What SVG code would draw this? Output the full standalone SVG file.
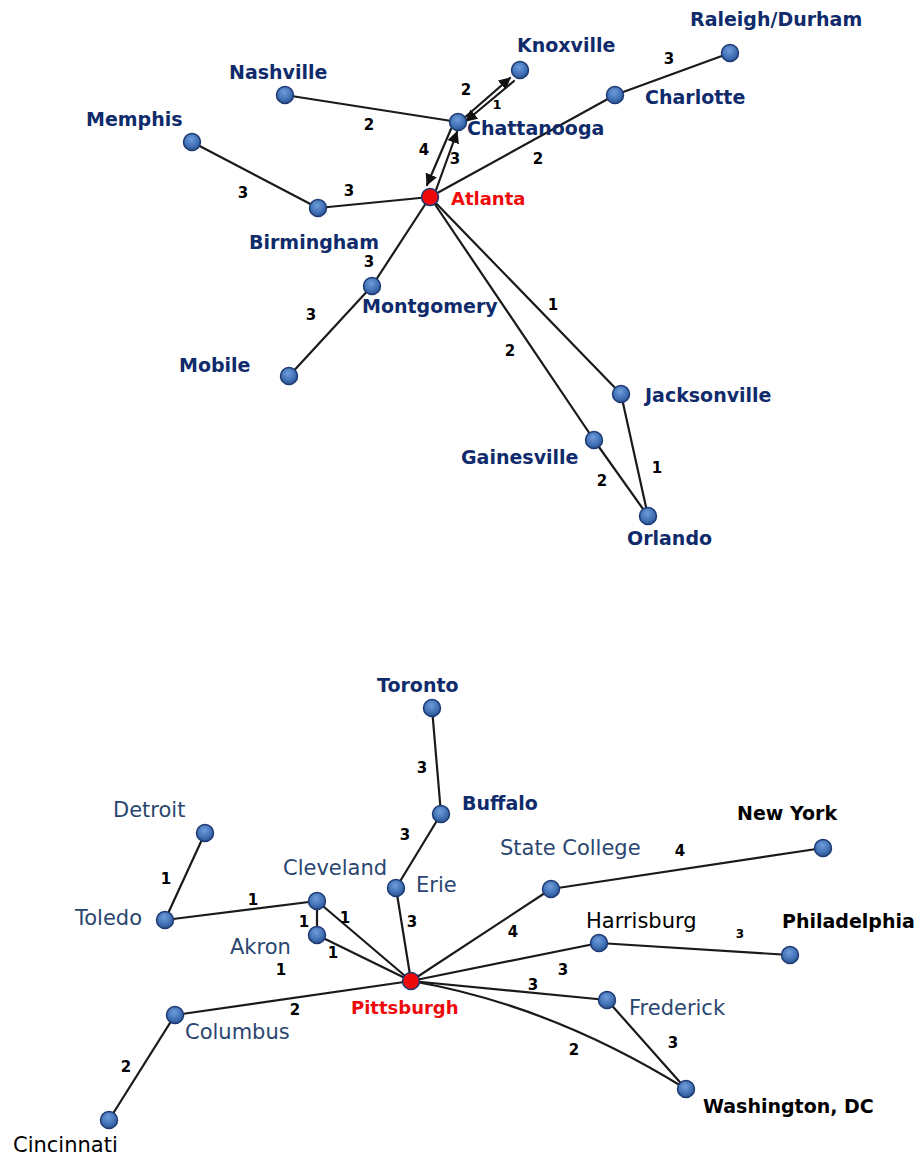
<svg xmlns="http://www.w3.org/2000/svg" width="917" height="1159" viewBox="0 0 917 1159">
<defs>
<radialGradient id="gBlue" cx="0.45" cy="0.35" r="0.7">
<stop offset="0" stop-color="#6f9ddb"/>
<stop offset="0.6" stop-color="#4170b5"/>
<stop offset="1" stop-color="#264f8c"/>
</radialGradient>
<marker id="arr" viewBox="0 0 10 10" refX="9" refY="5" markerWidth="5.5" markerHeight="5.5" orient="auto" markerUnits="strokeWidth">
<path d="M0,0 L10,5 L0,10 z" fill="#111"/>
</marker>
</defs>
<style>
.e{stroke:#1a1a1a;stroke-width:2.2;fill:none;stroke-linecap:round}
.n{fill:url(#gBlue);stroke:#1d3a72;stroke-width:1.5}
.r{fill:#ee0a0a;stroke:#1d3a72;stroke-width:1.5}
.t{font-family:"DejaVu Sans",Verdana,sans-serif;font-weight:bold;font-size:19px;fill:#0f2b6b}
.b{font-family:"DejaVu Sans",Verdana,sans-serif;font-size:21px;fill:#2a4670}
.k{font-family:"DejaVu Sans",Verdana,sans-serif;font-weight:bold;font-size:19px;fill:#000}
.kr{font-family:"DejaVu Sans",Verdana,sans-serif;font-size:21px;fill:#000}
.red{font-family:"DejaVu Sans",Verdana,sans-serif;font-weight:bold;font-size:18px;fill:#ee0a0a}
.w{font-family:"DejaVu Sans",Verdana,sans-serif;font-weight:bold;font-size:15px;fill:#000;text-anchor:middle}
</style>
<rect width="917" height="1159" fill="#fff"/>

<g id="connectors">
<!-- top -->
<line class="e" x1="285" y1="95" x2="458" y2="122"/>
<line class="e" x1="192" y1="142" x2="318" y2="208"/>
<line class="e" x1="318" y1="208" x2="430" y2="197"/>
<line class="e" x1="430" y1="197" x2="372" y2="286"/>
<line class="e" x1="372" y1="286" x2="289" y2="376"/>
<line class="e" x1="430" y1="197" x2="615" y2="95"/>
<line class="e" x1="615" y1="95" x2="730" y2="53"/>
<line class="e" x1="430" y1="197" x2="621" y2="394"/>
<line class="e" x1="430" y1="197" x2="594" y2="440"/>
<line class="e" x1="594" y1="440" x2="648" y2="516"/>
<line class="e" x1="621" y1="394" x2="648" y2="516"/>
<line class="e" x1="463" y1="119" x2="510" y2="78" marker-end="url(#arr)"/>
<line class="e" x1="514" y1="81" x2="466" y2="121" marker-end="url(#arr)"/>
<line class="e" x1="451" y1="129" x2="427" y2="185" marker-end="url(#arr)"/>
<line class="e" x1="436" y1="190" x2="457" y2="132" marker-end="url(#arr)"/>
<!-- bottom -->
<line class="e" x1="432" y1="708" x2="441" y2="814"/>
<line class="e" x1="441" y1="814" x2="396" y2="888"/>
<line class="e" x1="396" y1="888" x2="411" y2="981"/>
<line class="e" x1="205" y1="833" x2="165" y2="920"/>
<line class="e" x1="165" y1="920" x2="317" y2="901"/>
<line class="e" x1="317" y1="901" x2="317" y2="935"/>
<line class="e" x1="317" y1="901" x2="411" y2="981"/>
<line class="e" x1="317" y1="935" x2="411" y2="981"/>
<line class="e" x1="175" y1="1015" x2="411" y2="981"/>
<line class="e" x1="175" y1="1015" x2="109" y2="1120"/>
<line class="e" x1="411" y1="981" x2="551" y2="889"/>
<line class="e" x1="551" y1="889" x2="823" y2="848"/>
<line class="e" x1="411" y1="981" x2="599" y2="943"/>
<line class="e" x1="599" y1="943" x2="790" y2="955"/>
<line class="e" x1="411" y1="981" x2="607" y2="1000"/>
<line class="e" x1="607" y1="1000" x2="686" y2="1089"/>
<path class="e" d="M411,981 Q551,1005 686,1089"/>
</g>

<g id="edge-labels">
<text class="w" x="369" y="130">2</text>
<text class="w" x="243" y="198">3</text>
<text class="w" x="349" y="196">3</text>
<text class="w" x="369" y="267">3</text>
<text class="w" x="311" y="320">3</text>
<text class="w" x="538" y="164">2</text>
<text class="w" x="669" y="64">3</text>
<text class="w" x="466" y="95">2</text>
<text class="w" x="497" y="109" style="font-size:13px">1</text>
<text class="w" x="424" y="155">4</text>
<text class="w" x="455" y="164">3</text>
<text class="w" x="553" y="310">1</text>
<text class="w" x="510" y="356">2</text>
<text class="w" x="602" y="486">2</text>
<text class="w" x="657" y="473">1</text>
<text class="w" x="422" y="773">3</text>
<text class="w" x="405" y="840">3</text>
<text class="w" x="412" y="927">3</text>
<text class="w" x="166" y="884">1</text>
<text class="w" x="253" y="905">1</text>
<text class="w" x="304" y="927">1</text>
<text class="w" x="345" y="923">1</text>
<text class="w" x="333" y="958">1</text>
<text class="w" x="281" y="975">1</text>
<text class="w" x="295" y="1015">2</text>
<text class="w" x="126" y="1072">2</text>
<text class="w" x="513" y="937">4</text>
<text class="w" x="680" y="856">4</text>
<text class="w" x="563" y="975">3</text>
<text class="w" x="740" y="938" style="font-size:12px">3</text>
<text class="w" x="533" y="990">3</text>
<text class="w" x="673" y="1048">3</text>
<text class="w" x="574" y="1055">2</text>
</g>

<g id="atlanta"><circle class="r" cx="430" cy="197" r="8.5"/><text class="red" x="451" y="205">Atlanta</text></g>
<g id="chattanooga"><circle class="n" cx="458" cy="122" r="8.5"/><text class="t" x="467" y="135">Chattanooga</text></g>
<g id="knoxville"><circle class="n" cx="520" cy="70" r="8.5"/><text class="t" x="517" y="52">Knoxville</text></g>
<g id="nashville"><circle class="n" cx="285" cy="95" r="8.5"/><text class="t" x="229" y="79">Nashville</text></g>
<g id="memphis"><circle class="n" cx="192" cy="142" r="8.5"/><text class="t" x="86" y="126">Memphis</text></g>
<g id="birmingham"><circle class="n" cx="318" cy="208" r="8.5"/><text class="t" x="249" y="249">Birmingham</text></g>
<g id="montgomery"><circle class="n" cx="372" cy="286" r="8.5"/><text class="t" x="362" y="313">Montgomery</text></g>
<g id="mobile"><circle class="n" cx="289" cy="376" r="8.5"/><text class="t" x="179" y="372">Mobile</text></g>
<g id="charlotte"><circle class="n" cx="615" cy="95" r="8.5"/><text class="t" x="645" y="104">Charlotte</text></g>
<g id="raleigh"><circle class="n" cx="730" cy="53" r="8.5"/><text class="t" x="690" y="26">Raleigh/Durham</text></g>
<g id="jacksonville"><circle class="n" cx="621" cy="394" r="8.5"/><text class="t" x="645" y="402">Jacksonville</text></g>
<g id="gainesville"><circle class="n" cx="594" cy="440" r="8.5"/><text class="t" x="461" y="464">Gainesville</text></g>
<g id="orlando"><circle class="n" cx="648" cy="516" r="8.5"/><text class="t" x="627" y="545">Orlando</text></g>

<g id="pittsburgh"><circle class="r" cx="411" cy="981" r="8.5"/><text class="red" x="351" y="1014">Pittsburgh</text></g>
<g id="toronto"><circle class="n" cx="432" cy="708" r="8.5"/><text class="t" x="377" y="692">Toronto</text></g>
<g id="buffalo"><circle class="n" cx="441" cy="814" r="8.5"/><text class="t" x="462" y="810">Buffalo</text></g>
<g id="erie"><circle class="n" cx="396" cy="888" r="8.5"/><text class="b" x="416" y="892">Erie</text></g>
<g id="cleveland"><circle class="n" cx="317" cy="901" r="8.5"/><text class="b" x="283" y="875">Cleveland</text></g>
<g id="akron"><circle class="n" cx="317" cy="935" r="8.5"/><text class="b" x="230" y="954">Akron</text></g>
<g id="toledo"><circle class="n" cx="165" cy="920" r="8.5"/><text class="b" x="75" y="925">Toledo</text></g>
<g id="detroit"><circle class="n" cx="205" cy="833" r="8.5"/><text class="b" x="113" y="817">Detroit</text></g>
<g id="columbus"><circle class="n" cx="175" cy="1015" r="8.5"/><text class="b" x="185" y="1039">Columbus</text></g>
<g id="cincinnati"><circle class="n" cx="109" cy="1120" r="8.5"/><text class="kr" x="13" y="1152">Cincinnati</text></g>
<g id="statecollege"><circle class="n" cx="551" cy="889" r="8.5"/><text class="b" x="500" y="855">State College</text></g>
<g id="newyork"><circle class="n" cx="823" cy="848" r="8.5"/><text class="k" x="737" y="820">New York</text></g>
<g id="harrisburg"><circle class="n" cx="599" cy="943" r="8.5"/><text class="kr" x="586" y="928">Harrisburg</text></g>
<g id="philadelphia"><circle class="n" cx="790" cy="955" r="8.5"/><text class="k" x="782" y="928">Philadelphia</text></g>
<g id="frederick"><circle class="n" cx="607" cy="1000" r="8.5"/><text class="b" x="629" y="1015">Frederick</text></g>
<g id="washington"><circle class="n" cx="686" cy="1089" r="8.5"/><text class="k" x="703" y="1113">Washington, DC</text></g>
</svg>
